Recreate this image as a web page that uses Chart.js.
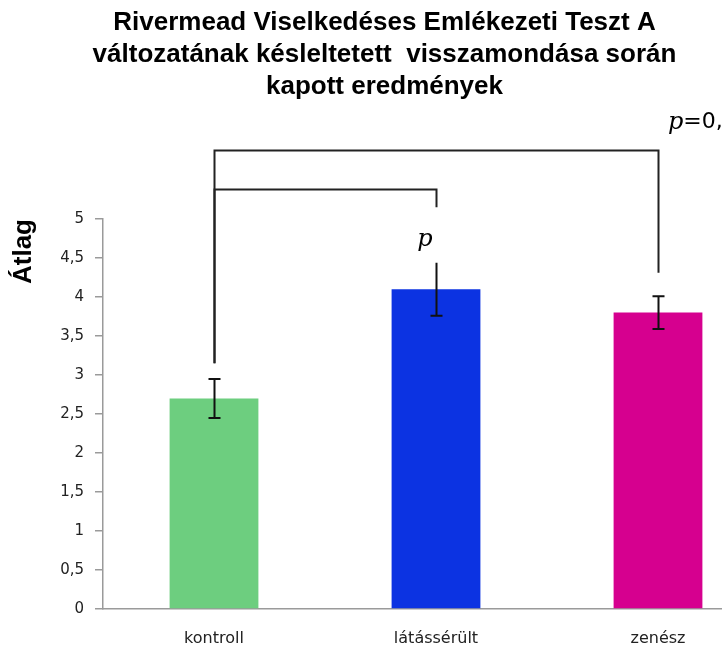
<!DOCTYPE html>
<html>
<head>
<meta charset="utf-8">
<script src="https://cdn.jsdelivr.net/npm/chart.js@4"></script>
<style>
html,body{margin:0;padding:0;background:#fff;overflow:hidden;width:722px;height:646px;}
canvas{display:block;}
</style>
</head>
<body>
<canvas id="c" width="780" height="646"></canvas>
<script>
const titleLines = ["Rivermead Viselkedéses Emlékezeti Teszt A", "változatának késleltetett  visszamondása során", "kapott eredmények"];
const categories = ["kontroll", "látássérült", "zenész"];
const means = [2.7, 4.1, 3.8];
const errors = [0.25, 0.34, 0.21];
const barColors = ["#6dce7f", "#0c33e2", "#d6008f"];
const yTicks = [0, 0.5, 1, 1.5, 2, 2.5, 3, 3.5, 4, 4.5, 5];
const yTitle = "Átlag";
// significance brackets: [fromIndex, toIndex, barTop, fromBottom, toBottom]
const bracketFrom = [0, 0];
const bracketTo = [2, 1];
const bracketLevel = [5.88, 5.38];
const bracketFromEnd = [3.15, 3.15];
const bracketToEnd = [4.31, 5.15];
const pLabels = ["p", "p=0,"];
const pLabelCat = [1, 2];
const pLabelVal = [4.73, 6.24];

const annotPlugin = {
  id: 'annot',
  afterDatasetsDraw(chart) {
    const ctx = chart.ctx, x = chart.scales.x, y = chart.scales.y;
    ctx.save();
    // error bars
    ctx.strokeStyle = '#111';
    ctx.lineWidth = 2;
    means.forEach((m, i) => {
      const cx = Math.round(x.getPixelForValue(i)) + 0.5;
      const yt = y.getPixelForValue(m + errors[i]);
      const yb = y.getPixelForValue(m - errors[i]);
      ctx.beginPath();
      ctx.moveTo(cx, yt); ctx.lineTo(cx, yb);
      ctx.moveTo(cx - 6, yb); ctx.lineTo(cx + 6, yb);
      if (i !== 1) { ctx.moveTo(cx - 6, yt); ctx.lineTo(cx + 6, yt); }
      ctx.stroke();
    });
    // brackets
    ctx.strokeStyle = '#222';
    ctx.lineWidth = 2;
    bracketFrom.forEach((f, k) => {
      const x1 = Math.round(x.getPixelForValue(f)) + 0.5;
      const x2 = Math.round(x.getPixelForValue(bracketTo[k])) + 0.5;
      const yl = Math.round(y.getPixelForValue(bracketLevel[k])) + 0.5;
      ctx.beginPath();
      ctx.moveTo(x1, y.getPixelForValue(bracketFromEnd[k]));
      ctx.lineTo(x1, yl);
      ctx.lineTo(x2, yl);
      ctx.lineTo(x2, y.getPixelForValue(bracketToEnd[k]));
      ctx.stroke();
    });
    // p labels
    ctx.fillStyle = '#000';
    ctx.textBaseline = 'middle';
    pLabels.forEach((t, k) => {
      const cx = x.getPixelForValue(pLabelCat[k]);
      const cy = y.getPixelForValue(pLabelVal[k]);
      if (k === 0) {
        ctx.font = 'italic 24px "DejaVu Serif", "Liberation Serif", serif';
        ctx.textAlign = 'center';
        ctx.fillText(t, cx - 11, cy);
      } else {
        ctx.textAlign = 'left';
        const lx = cx + 10;
        ctx.font = 'italic 24px "DejaVu Serif", "Liberation Serif", serif';
        ctx.fillText('p', lx, cy);
        const w = ctx.measureText('p').width;
        ctx.font = '22px "DejaVu Sans", sans-serif';
        ctx.fillText(t.slice(1), lx + w, cy);
      }
    });
    ctx.restore();
  }
};

new Chart(document.getElementById('c'), {
  type: 'bar',
  data: {
    labels: categories,
    datasets: [{
      data: means,
      backgroundColor: barColors,
      borderWidth: 0,
      barPercentage: 0.4,
      categoryPercentage: 1.0
    }]
  },
  options: {
    responsive: false,
    animation: false,
    devicePixelRatio: 1,
    layout: { padding: { left: 0, right: 11, top: 0, bottom: 0 } },
    plugins: {
      legend: { display: false },
      tooltip: { enabled: false },
      title: {
        display: true,
        text: titleLines,
        color: '#000',
        font: { family: '"Liberation Sans", Arial, sans-serif', size: 26, weight: 'bold', lineHeight: '32px' },
        padding: { top: 7, bottom: 116 }
      }
    },
    scales: {
      x: {
        grid: { display: false, drawOnChartArea: false, offset: true },
        border: { display: true, color: '#9a9a9a', width: 1.5 },
        ticks: {
          color: '#222',
          font: { family: '"DejaVu Sans", sans-serif', size: 16 },
          padding: 12
        },
        afterFit(s) { s.height = 37; }
      },
      y: {
        min: 0, max: 5,
        afterBuildTicks(s) { s.ticks = yTicks.map(v => ({ value: v })); },
        grid: { drawOnChartArea: false, drawTicks: true, tickLength: 8, color: '#9a9a9a', lineWidth: 1.5 },
        border: { display: true, color: '#9a9a9a', width: 1.5 },
        ticks: {
          color: '#222',
          font: { family: '"DejaVu Sans", sans-serif', size: 15 },
          padding: 11,
          callback: (v) => String(v).replace('.', ',')
        },
        title: {
          display: true,
          text: yTitle,
          align: 'end',
          color: '#000',
          font: { family: '"Liberation Sans", Arial, sans-serif', size: 26, weight: 'bold' },
          padding: { top: 8, bottom: 0 }
        },
        afterFit(s) { s.width = 103; }
      }
    }
  },
  plugins: [annotPlugin]
});
</script>
</body>
</html>
